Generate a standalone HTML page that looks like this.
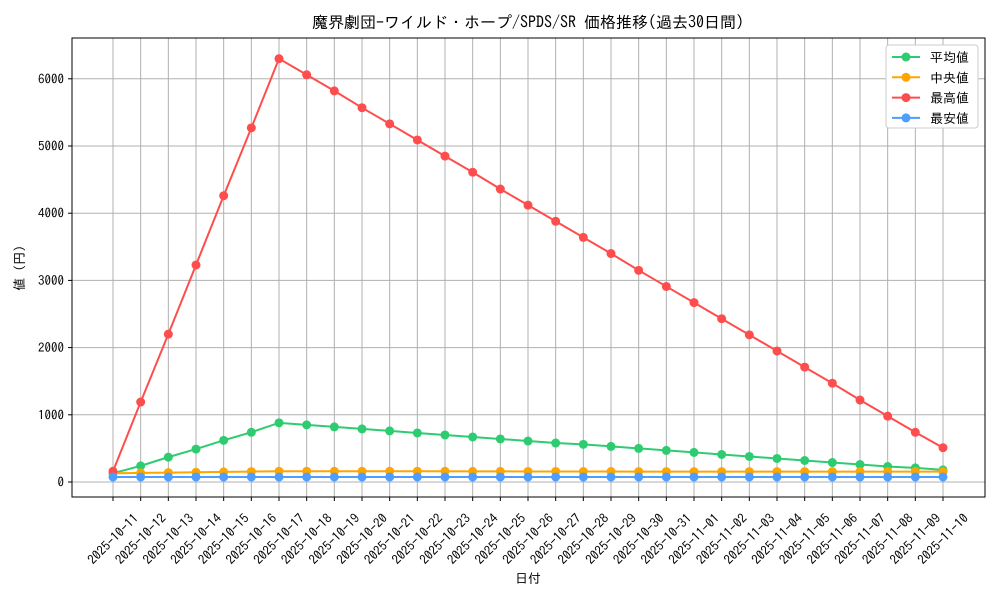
<!DOCTYPE html>
<html><head><meta charset="utf-8"><style>
body{margin:0;background:#fff;}
svg text{font-family:"IPAGothic","Noto Sans CJK JP",monospace;}
</style></head><body>
<svg id="chart" width="1000" height="600" xmlns="http://www.w3.org/2000/svg"></svg>
<script>
const categories=["2025-10-11","2025-10-12","2025-10-13","2025-10-14","2025-10-15","2025-10-16","2025-10-17","2025-10-18","2025-10-19","2025-10-20","2025-10-21","2025-10-22","2025-10-23","2025-10-24","2025-10-25","2025-10-26","2025-10-27","2025-10-28","2025-10-29","2025-10-30","2025-10-31","2025-11-01","2025-11-02","2025-11-03","2025-11-04","2025-11-05","2025-11-06","2025-11-07","2025-11-08","2025-11-09","2025-11-10"];
const avgValues=[130,240,370,490,620,740,880,850,820,790,760,730,700,670,640,610,580,560,530,500,470,440,410,380,350,320,290,260,230,210,180];
const medianValues=[130,135,140,145,150,155,160,160,160,160,160,160,160,158,158,157,157,156,156,155,155,155,155,155,155,155,155,155,155,155,155];
const maxValues=[160,1190,2200,3230,4260,5270,6300,6060,5820,5570,5330,5090,4850,4610,4360,4120,3880,3640,3400,3150,2910,2670,2430,2190,1950,1710,1470,1220,980,740,510];
const minValues=[75,75,75,75,75,75,75,75,75,75,75,75,75,75,75,75,75,75,75,75,75,75,75,75,75,75,75,75,75,75,75];
const yTicks=[0,1000,2000,3000,4000,5000,6000];
const seriesNames=["平均値","中央値","最高値","最安値"];

const svg=document.getElementById('chart');
const NS="http://www.w3.org/2000/svg";
const L=72,R=985,T=38,B=497;
const x=i=>113+i*(943-113)/(categories.length-1);
const y=v=>482-v*0.0672;
function mk(tag,attrs,parent){const e=document.createElementNS(NS,tag);for(const k in attrs)e.setAttribute(k,attrs[k]);(parent||svg).appendChild(e);return e;}

const grid=mk('g',{});


categories.forEach((c,i)=>{
  mk('line',{x1:x(i),x2:x(i),y1:T,y2:B,stroke:'#b0b0b0','stroke-width':1},grid);
  mk('line',{x1:x(i),x2:x(i),y1:B,y2:B+4,stroke:'#000'},grid);
  const cy=539;
  const t=mk('text',{x:x(i),y:cy,'font-size':13,'text-anchor':'middle','dominant-baseline':'central',transform:`rotate(-45 ${x(i)} ${cy})`});
  t.textContent=c;
  
  
});
yTicks.forEach(v=>{
  mk('line',{x1:L,x2:R,y1:y(v),y2:y(v),stroke:'#b0b0b0','stroke-width':1},grid);
  mk('line',{x1:L-4,x2:L,y1:y(v),y2:y(v),stroke:'#000'},grid);
  const t=mk('text',{x:L-8,y:y(v)+4.5,'font-size':13,'text-anchor':'end'});
  t.textContent=v;
  
  
});
const frame=mk('rect',{x:L,y:T,width:R-L,height:B-T,fill:'none',stroke:'#000','stroke-width':1});



const series=[[avgValues,'#2ecc71'],[medianValues,'#ffa500'],[maxValues,'#ff4d4d'],[minValues,'#4d9eff']];
series.forEach(([vals,col],si)=>{
  const g=mk('g',{});
  
  
  mk('polyline',{points:vals.map((v,i)=>x(i)+','+y(v)).join(' '),fill:'none',stroke:col,'stroke-width':2},g);
  vals.forEach((v,i)=>{
    const c=mk('circle',{cx:x(i),cy:y(v),r:4.5,fill:col},g);
    
    
  });
});

const lg=mk('g',{});


mk('rect',{x:886,y:45,width:92,height:83,fill:'#fff',stroke:'#ccc',rx:3},lg);
series.forEach(([v,col],i)=>{
  const yy=57+i*20.3;
  mk('line',{x1:892,x2:920,y1:yy,y2:yy,stroke:col,'stroke-width':2},lg);
  mk('circle',{cx:906,cy:yy,r:4.5,fill:col},lg);
  const t=mk('text',{x:930,y:yy+5,'font-size':13},lg);
  t.textContent=seriesNames[i];
  
  
});

const title=mk('text',{x:528,y:28,'font-size':16,'text-anchor':'middle'});
title.textContent="魔界劇団-ワイルド・ホープ/SPDS/SR 価格推移(過去30日間)";


const xt=mk('text',{x:528,y:583,'font-size':13,'text-anchor':'middle'});
xt.textContent="日付";


const yt=mk('text',{x:24,y:268,'font-size':13,'text-anchor':'middle',transform:'rotate(-90 24 268)'});
yt.textContent="値 (円)";


</script>
</body></html>
